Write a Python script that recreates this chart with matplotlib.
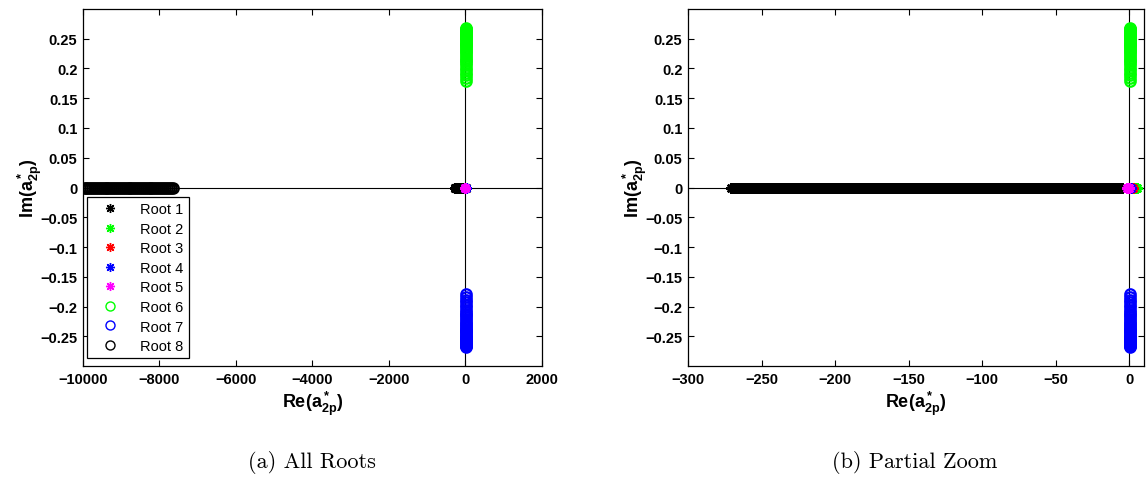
import numpy as np
import matplotlib
matplotlib.use("Agg")
import matplotlib.pyplot as plt
from matplotlib.ticker import FuncFormatter

plt.rcParams["font.family"] = ["Liberation Sans", "DejaVu Sans"]
plt.rcParams["mathtext.fontset"] = "custom"
plt.rcParams["mathtext.bf"] = "Liberation Sans:bold"
plt.rcParams["mathtext.rm"] = "Liberation Sans:bold"
plt.rcParams["mathtext.it"] = "Liberation Sans:bold"

# ---- roots of the a_2p polynomial over the parameter sweep ----
# Root 1: real, negative (black asterisks)
root1_re = [-271, -269, -267, -265, -263, -261, -259, -257, -255, -253, -251, -249,
            -247, -245, -243, -241, -239, -237, -235, -233, -231, -229, -227, -225,
            -223, -221, -219, -217, -215, -213, -211, -209, -207, -205, -203, -201,
            -199, -197, -195, -193, -191, -189, -187, -185, -183, -181, -179, -177,
            -175, -173, -171, -169, -167, -165, -163, -161, -159, -157, -155, -153,
            -151, -149, -147, -145, -143, -141, -139, -137, -135, -133, -131, -129,
            -127, -125, -123, -121, -119, -117, -115, -113, -111, -109, -107, -105,
            -103, -101, -99, -97, -95, -93, -91, -89, -87, -85, -83, -81, -79, -77,
            -75, -73, -71, -69, -67, -65, -63, -61, -59, -57, -55, -53, -51, -49,
            -47, -45, -43, -41, -39, -37, -35, -33, -31, -29, -27, -25, -23, -21,
            -19, -17, -15, -13, -11, -9, -7, -5]
root1_im = [0.0] * len(root1_re)

# Roots 2-5: real, clustered at the origin
root2_re = [2.5, 3.5, 4.5, 5.5]
root2_im = [0.0, 0.0, 0.0, 0.0]
root3_re = [1.0, 1.5, 2.0, 2.5]
root3_im = [0.0, 0.0, 0.0, 0.0]
root4_re = [-0.5, 0.0, 0.5, 1.0]
root4_im = [0.0, 0.0, 0.0, 0.0]
root5_re = [-1.5, -1.0, -0.5]
root5_im = [0.0, 0.0, 0.0]

# Roots 6 and 7: complex pair on the imaginary axis
root6_im = [0.179, 0.184, 0.189, 0.193, 0.197, 0.201, 0.205, 0.209, 0.212, 0.215,
            0.218, 0.221, 0.224, 0.227, 0.229, 0.232, 0.234, 0.237, 0.239, 0.241,
            0.243, 0.245, 0.247, 0.249, 0.251, 0.253, 0.255, 0.256, 0.258, 0.260,
            0.261, 0.263, 0.264, 0.266, 0.267, 0.268]
root6_re = [0.2] * len(root6_im)
root7_im = [-0.179, -0.184, -0.189, -0.193, -0.197, -0.201, -0.205, -0.209, -0.212,
            -0.215, -0.218, -0.221, -0.224, -0.227, -0.229, -0.232, -0.234, -0.237,
            -0.239, -0.241, -0.243, -0.245, -0.247, -0.249, -0.251, -0.253, -0.255,
            -0.256, -0.258, -0.260, -0.261, -0.263, -0.264, -0.266, -0.267, -0.268]
root7_re = [0.2] * len(root7_im)

# Root 8: large negative real root (black circles)
root8_re = [-9960, -9910, -9860, -9810, -9760, -9710, -9660, -9610, -9560, -9510,
            -9460, -9410, -9360, -9310, -9260, -9210, -9160, -9110, -9060, -9010,
            -8960, -8910, -8860, -8810, -8760, -8710, -8660, -8610, -8560, -8510,
            -8460, -8410, -8360, -8310, -8260, -8210, -8160, -8110, -8060, -8010,
            -7960, -7910, -7860, -7810, -7760, -7710, -7660]
root8_im = [0.0] * len(root8_re)

roots = [
    ("Root 1", root1_re, root1_im, "k", "star"),
    ("Root 2", root2_re, root2_im, "#00ff00", "star"),
    ("Root 3", root3_re, root3_im, "#ff0000", "star"),
    ("Root 4", root4_re, root4_im, "#0000ff", "star"),
    ("Root 5", root5_re, root5_im, "#ff00ff", "star"),
    ("Root 6", root6_re, root6_im, "#00ff00", "circ"),
    ("Root 7", root7_re, root7_im, "#0000ff", "circ"),
    ("Root 8", root8_re, root8_im, "k", "circ"),
]

y_ticks = [-0.25, -0.2, -0.15, -0.1, -0.05, 0, 0.05, 0.1, 0.15, 0.2, 0.25]
x_ticks_all = [-10000, -8000, -6000, -4000, -2000, 0, 2000]
x_ticks_zoom = [-300, -250, -200, -150, -100, -50, 0]


def fmt(v, _pos=None):
    s = f"{v:g}"
    return s.replace("-", "\u2212")


fig = plt.figure(figsize=(11.47, 4.81), dpi=100)
W, H = 1147, 481
ax1 = fig.add_axes([83 / W, (H - 367) / H, 459 / W, 357 / H])
ax2 = fig.add_axes([688 / W, (H - 367) / H, 456 / W, 357 / H])


def draw(ax, xlim, xticks, legend=False):
    ax.axhline(0, color="k", lw=0.8, zorder=1)
    ax.axvline(0, color="k", lw=0.8, zorder=1)
    for name, re, im, col, kind in roots:
        if kind == "star":
            ax.plot(re, im, ls="none", marker=(8, 2, 0), ms=7.5, mew=1.8,
                    color=col, label=name, zorder=2)
        else:
            ax.plot(re, im, ls="none", marker="o", ms=7.5, mew=1.6,
                    mfc="none", mec=col, label=name, zorder=2)
    ax.set_xlim(*xlim)
    ax.set_ylim(-0.2999, 0.2999)
    ax.set_xticks(xticks)
    ax.set_yticks(y_ticks)
    ax.xaxis.set_major_formatter(FuncFormatter(fmt))
    ax.yaxis.set_major_formatter(FuncFormatter(fmt))
    ax.tick_params(direction="in", length=4, width=0.8, top=True, right=True,
                   labelsize=10.5, pad=4)
    for lab in ax.get_xticklabels() + ax.get_yticklabels():
        lab.set_fontweight("bold")
    for sp in ax.spines.values():
        sp.set_linewidth(0.9)
    ax.set_xlabel(r"$\mathbf{Re(a^*_{2p})}$", fontsize=13, labelpad=2)
    ax.set_ylabel(r"$\mathbf{Im(a^*_{2p})}$", fontsize=13, labelpad=-3)
    if legend:
        leg = ax.legend(loc="lower left", bbox_to_anchor=(0.0087, 0.022),
                        numpoints=1, fontsize=10.5, frameon=True, fancybox=False,
                        edgecolor="k", framealpha=1, borderpad=0.35,
                        labelspacing=0.38, handlelength=2.4, handletextpad=0.9,
                        borderaxespad=0)
        leg.get_frame().set_linewidth(0.9)
        for lh in leg.legend_handles:
            lh.set_markeredgewidth(1.0)
            lh.set_markersize(6.5)


draw(ax1, (-10000, 2000), x_ticks_all, legend=True)
draw(ax2, (-300, 10), x_ticks_zoom)

fig.text(312 / W, 1 - 462 / H, "(a) All Roots", family="cmr10", fontsize=16,
         ha="center", va="center")
fig.text(915 / W, 1 - 462 / H, "(b) Partial Zoom", family="cmr10", fontsize=16,
         ha="center", va="center")

fig.savefig("out.png", dpi=100)
